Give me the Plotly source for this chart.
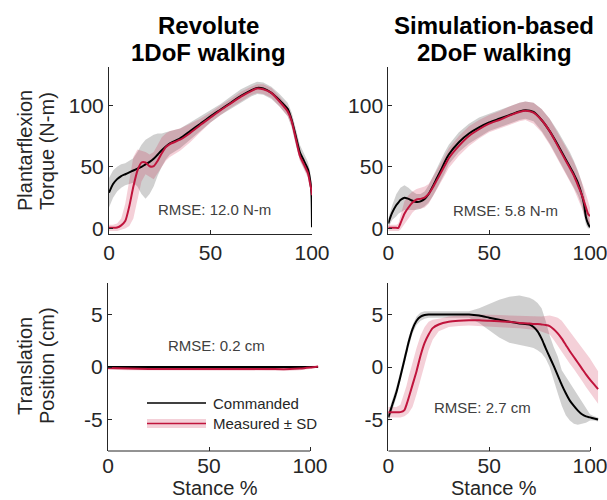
import plotly.graph_objects as go

W, H = 607, 500
FONT = "Liberation Sans, Arial, sans-serif"
TXT = "#262626"

# ---------------- data ----------------
# Top-left: Revolute 1DoF torque (N-m)
tl_x = [0, 2, 4, 6, 8, 10, 12, 14, 16, 18, 20, 22, 24, 26, 28, 30, 35, 40, 45, 50, 55, 60, 65, 70, 73, 76, 80, 84, 88, 90, 92, 94, 96, 98, 99, 99.7, 100]
tl_cmd = [29, 36, 40, 42.5, 44, 45.5, 47, 48.5, 50, 52, 54, 56.5, 60, 63.5, 66.5, 69, 73, 79, 85, 91, 96.5, 102, 107.5, 112, 114, 113.5, 110, 104, 97, 88, 75, 62, 55, 48, 40, 30, 1]
tl_cmd_hi = [41, 47, 50, 52, 53, 55, 57, 62, 68, 72, 74, 76, 77, 77, 78, 79, 81, 86, 91, 96, 101, 107, 113, 117, 119, 118.5, 115, 109, 102, 94, 82, 68, 61, 54, 47, 38, 5]
tl_cmd_lo = [17, 25, 30, 33, 35, 36, 37, 34, 28, 24, 28, 34, 43, 50, 56, 60, 65, 72, 79, 86, 92, 97, 102, 107, 109, 108.5, 105, 99, 91, 82, 68, 56, 49, 42, 33, 22, 0]
tl_meas = [0.5, 0.5, 0.8, 2.5, 6, 18, 34, 47, 53.5, 53.5, 50.5, 50.5, 55, 61, 66, 68.5, 72, 77.5, 84, 90, 96, 101.5, 107, 111.5, 113.5, 113, 110, 103, 95, 87, 73, 59, 52, 45, 37, 31, 27]
tl_meas_hi = [3, 3, 4, 8, 20, 40, 58, 64, 63, 62, 60, 62, 68, 74, 77, 79, 81, 85, 89, 94, 100, 105, 111, 115, 117, 117, 114, 107, 99, 91, 77, 63, 56, 49, 41, 35, 31]
tl_meas_lo = [-2, -2, -2, -1, 0, 2, 8, 22, 38, 44, 42, 40, 44, 50, 55, 58, 63, 70, 78, 86, 92, 98, 103, 108, 110, 109, 106, 99, 91, 83, 69, 55, 48, 41, 33, 27, 23]

# Top-right: Simulation-based 2DoF torque (N-m)
tr_x = [0, 1, 2, 4, 5, 6, 8, 10, 12, 14, 16, 18, 20, 22, 24, 26, 28, 30, 35, 40, 45, 50, 55, 60, 65, 68, 72, 76, 80, 84, 88, 90, 92, 94, 96, 97, 98, 99, 100]
tr_cmd = [4, 9, 13, 19, 21, 23, 25, 24, 22.5, 21.5, 22, 24, 28, 34, 40.5, 47, 54, 60, 70, 77, 82, 86, 89, 92, 95, 96, 94.5, 88, 79, 68, 56, 50, 44, 37, 27, 20, 9, 4, 1]
tr_cmd_hi = [8, 14, 19, 28, 31, 33, 35, 33, 30, 28, 28, 30, 35, 42, 49, 56, 62, 68, 78, 85, 90, 93, 96, 99, 102, 103, 102, 97, 89, 79, 68, 62, 55, 47, 37, 30, 18, 10, 5]
tr_cmd_lo = [0, 4, 7, 10, 12, 13, 15, 15, 15, 15, 16, 18, 21, 26, 32, 38, 45, 52, 62, 69, 74, 79, 82, 85, 88, 89, 87, 79, 69, 57, 45, 39, 33, 27, 18, 12, 3, 0, 0]
tr_meas = [0.5, 0.5, 0.5, 0.5, 0.5, 4, 12, 17, 21, 23.5, 24, 25, 28, 33, 39, 45, 51, 57, 67, 75, 80.5, 85, 88, 91.5, 94.5, 95.5, 94, 88, 79, 67, 55, 49, 43, 35, 27, 22, 17, 12, 10]
tr_meas_hi = [3, 3, 3, 3, 4, 10, 22, 27, 30, 32, 33, 34, 36, 41, 47, 53, 59, 65, 75, 83, 88, 92, 95, 99, 102, 103, 102, 97, 89, 78, 66, 60, 54, 46, 38, 33, 28, 22, 17]
tr_meas_lo = [-2, -2, -2, -2, -2, -1, 3, 8, 13, 16, 16, 17, 20, 25, 31, 37, 43, 49, 59, 67, 73, 78, 81, 84, 87, 88, 85, 78, 68, 56, 44, 38, 32, 24, 16, 12, 7, 3, 4]

# Bottom-left: Revolute 1DoF translation (cm)
bl_x = [0, 10, 20, 30, 40, 50, 60, 70, 80, 90, 95, 100, 104]
bl_cmd = [0, 0, 0, 0, 0, 0, 0, 0, 0, 0, 0, 0, 0]
bl_cmd_hi = [0.05] * 13
bl_cmd_lo = [-0.05] * 13
bl_meas = [-0.1, -0.15, -0.2, -0.2, -0.2, -0.2, -0.2, -0.2, -0.2, -0.2, -0.15, -0.05, 0.05]
bl_meas_hi = [0.05, 0.0, -0.05, -0.05, -0.05, -0.05, -0.05, -0.05, -0.05, -0.05, 0.0, 0.1, 0.15]
bl_meas_lo = [-0.25, -0.3, -0.35, -0.35, -0.35, -0.35, -0.35, -0.35, -0.35, -0.35, -0.3, -0.2, -0.05]

# Bottom-right: Simulation-based 2DoF translation (cm)
br_x = [0, 2, 4, 6, 8, 9, 10, 12, 14, 16, 18, 20, 22, 25, 30, 35, 40, 45, 50, 55, 60, 65, 70, 72, 74, 76, 78, 80, 82, 84, 86, 88, 90, 92, 94, 96, 98, 100, 102, 104]
br_cmd = [-4.8, -3.6, -2.4, -0.9, 0.7, 1.5, 2.3, 3.6, 4.4, 4.8, 4.95, 5.0, 5.0, 5.0, 5.0, 5.0, 5.0, 4.9, 4.7, 4.5, 4.3, 4.15, 4.05, 3.8, 3.4, 2.7, 1.8, 0.95, 0.1, -0.8, -1.7, -2.5, -3.2, -3.7, -4.15, -4.5, -4.7, -4.8, -4.9, -5.0]
br_cmd_hi = [-4.3, -3.1, -1.9, -0.4, 1.2, 2.0, 2.8, 4.0, 4.8, 5.2, 5.3, 5.3, 5.3, 5.3, 5.3, 5.3, 5.3, 5.6, 6.0, 6.4, 6.7, 6.8, 6.6, 6.4, 6.1, 5.6, 4.4, 3.0, 1.9, 1.0, -0.3, -0.9, -1.5, -2.2, -2.8, -3.4, -3.9, -4.5, -4.7, -4.8]
br_cmd_lo = [-5.3, -4.1, -2.9, -1.4, 0.2, 1.0, 1.8, 3.2, 4.0, 4.4, 4.6, 4.7, 4.7, 4.7, 4.7, 4.7, 4.7, 4.2, 3.5, 2.8, 2.3, 2.1, 1.9, 1.8, 1.6, 1.3, 0.8, 0.0, -1.3, -2.5, -3.7, -4.6, -5.1, -5.4, -5.5, -5.4, -5.3, -5.1, -5.1, -5.2]
br_meas = [-4.3, -4.3, -4.3, -4.3, -4.1, -3.6, -3.0, -1.7, -0.4, 1.1, 2.3, 3.1, 3.7, 4.05, 4.3, 4.4, 4.45, 4.45, 4.4, 4.35, 4.3, 4.2, 4.15, 4.1, 4.1, 4.05, 4.0, 3.9, 3.6, 3.2, 2.7, 2.1, 1.5, 0.95, 0.4, -0.15, -0.7, -1.2, -1.65, -2.1]
br_meas_hi = [-3.8, -3.8, -3.8, -3.6, -2.5, -1.8, -1.0, 0.5, 1.8, 3.0, 3.8, 4.3, 4.5, 4.6, 4.8, 4.9, 5.0, 5.0, 5.0, 4.95, 4.9, 4.85, 4.8, 4.8, 4.8, 4.8, 4.85, 4.9, 4.8, 4.7, 4.4, 3.9, 3.4, 2.8, 2.3, 1.8, 1.3, 0.8, 0.2, -0.4]
br_meas_lo = [-4.8, -4.8, -4.8, -4.8, -4.7, -4.6, -4.4, -3.8, -2.6, -1.2, 0.3, 1.6, 2.6, 3.4, 3.8, 3.9, 3.95, 3.95, 3.9, 3.8, 3.75, 3.7, 3.6, 3.55, 3.5, 3.4, 3.25, 3.1, 2.6, 2.1, 1.5, 0.9, 0.3, -0.2, -0.7, -1.3, -1.9, -2.5, -3.0, -3.5]

x_ticks = [0, 50, 100]
x_tick_text = ["0", "50", "100"]
torque_ticks = [0, 50, 100]
torque_tick_text = ["0", "50", "100"]
pos_ticks = [-5, 0, 5]
pos_tick_text = ["-5", "0", "5"]

title_lines = [("Revolute", "1DoF walking"), ("Simulation-based", "2DoF walking")]
ylabel_lines = [("Plantarflexion", "Torque (N-m)"), ("Translation", "Position (cm)")]
xlabel = "Stance %"
rmse_labels = ["RMSE: 12.0 N-m", "RMSE: 5.8 N-m", "RMSE: 0.2 cm", "RMSE: 2.7 cm"]
legend_labels = ["Commanded", "Measured ± SD"]

# ---------------- styling ----------------
BLACK = "#000000"
RED = "#C0143C"
GRAY_FILL = "rgba(150,150,150,0.45)"
PINK_FILL = "rgba(200,20,60,0.2)"

fig = go.Figure()

panels = [
    ("x", "y", tl_x, tl_cmd, tl_cmd_hi, tl_cmd_lo, tl_meas, tl_meas_hi, tl_meas_lo),
    ("x2", "y2", tr_x, tr_cmd, tr_cmd_hi, tr_cmd_lo, tr_meas, tr_meas_hi, tr_meas_lo),
    ("x3", "y3", bl_x, bl_cmd, bl_cmd_hi, bl_cmd_lo, bl_meas, bl_meas_hi, bl_meas_lo),
    ("x4", "y4", br_x, br_cmd, br_cmd_hi, br_cmd_lo, br_meas, br_meas_hi, br_meas_lo),
]

for xa, ya, xs, c, chi, clo, m, mhi, mlo in panels:
    fig.add_trace(go.Scatter(x=list(xs) + list(xs)[::-1], y=list(chi) + list(clo)[::-1],
                             fill="toself", fillcolor=GRAY_FILL, line=dict(width=0),
                             mode="lines", hoverinfo="skip", showlegend=False, xaxis=xa, yaxis=ya))
    fig.add_trace(go.Scatter(x=list(xs) + list(xs)[::-1], y=list(mhi) + list(mlo)[::-1],
                             fill="toself", fillcolor=PINK_FILL, line=dict(width=0),
                             mode="lines", hoverinfo="skip", showlegend=False, xaxis=xa, yaxis=ya))
    fig.add_trace(go.Scatter(x=xs, y=c, mode="lines", line=dict(color=BLACK, width=2, shape="spline", smoothing=0.6),
                             showlegend=False, xaxis=xa, yaxis=ya))
    fig.add_trace(go.Scatter(x=xs, y=m, mode="lines", line=dict(color=RED, width=2, shape="spline", smoothing=0.6),
                             showlegend=False, xaxis=xa, yaxis=ya))


def px_x(p):
    return p / W


def px_y(p):
    return 1 - p / H


axis_common = dict(showgrid=False, zeroline=False, ticks="inside", ticklen=4, tickwidth=1,
                   tickcolor=TXT, linecolor=TXT, linewidth=1, automargin=False,
                   ticklabeloverflow="allow",
                   tickfont=dict(family=FONT, size=21, color=TXT), fixedrange=True)

top_y = [px_y(234), px_y(67)]
bot_y = [px_y(451), px_y(283)]

fig.update_layout(
    xaxis=dict(domain=[px_x(109), px_x(312)], range=[0, 100], anchor="y", tickvals=x_ticks, ticktext=x_tick_text, showline=True, **axis_common),
    yaxis=dict(domain=top_y, range=[-4.5, 131], anchor="x", tickvals=torque_ticks, ticktext=torque_tick_text, showline=True, **axis_common),
    xaxis2=dict(domain=[px_x(388.3), px_x(590)], range=[0, 100], anchor="y2", tickvals=x_ticks, ticktext=x_tick_text, showline=True, **axis_common),
    yaxis2=dict(domain=top_y, range=[-4.5, 131], anchor="x2", tickvals=torque_ticks, ticktext=torque_tick_text, showline=True, **axis_common),
    xaxis3=dict(domain=[px_x(108), px_x(320.1)], range=[0, 105], anchor="y3", tickvals=x_ticks, ticktext=x_tick_text, showline=False, **axis_common),
    yaxis3=dict(domain=bot_y, range=[-8, 8], anchor="x3", tickvals=pos_ticks, ticktext=pos_tick_text, showline=True, **axis_common),
    xaxis4=dict(domain=[px_x(388.3), px_x(600.1)], range=[0, 105], anchor="y4", tickvals=x_ticks, ticktext=x_tick_text, showline=False, **axis_common),
    yaxis4=dict(domain=bot_y, range=[-8, 8], anchor="x4", tickvals=pos_ticks, ticktext=pos_tick_text, showline=True, **axis_common),
    width=W, height=H,
    margin=dict(l=0, r=0, t=0, b=0, autoexpand=False),
    paper_bgcolor="white", plot_bgcolor="white",
    showlegend=False,
)

# bottom x-axis lines only span 0..100
for xr, yr in (("x3", "y3 domain"), ("x4", "y4 domain")):
    fig.add_shape(type="line", xref=xr, yref=yr, x0=0, x1=100, y0=0, y1=0,
                  line=dict(color=TXT, width=1))

ann = []


def add_text(text, cx, cy, size, color=TXT, bold=False, angle=0, xanchor="center"):
    ann.append(dict(text=f"<b>{text}</b>" if bold else text, x=px_x(cx), y=px_y(cy),
                    xref="paper", yref="paper", showarrow=False, textangle=angle,
                    font=dict(family=FONT, size=size, color=color),
                    xanchor=xanchor, yanchor="middle"))


# titles (two separate lines each)
for (l1, l2), cx in zip(title_lines, (208.5, 494.5)):
    add_text(l1, cx, 25.5, 24, "#000000", bold=True)
    add_text(l2, cx, 53, 24, "#000000", bold=True)
# y-axis titles
for (l1, l2), cy in zip(ylabel_lines, (151, 366)):
    add_text(l1, 25, cy, 20, angle=-90)
    add_text(l2, 47, cy, 20, angle=-90)
# x-axis titles
for cx in (215, 494):
    add_text(xlabel, cx, 488, 20)
# RMSE labels
for lbl, (cx, cy) in zip(rmse_labels, [(214, 210), (505, 211), (216, 345), (482, 407)]):
    add_text(lbl, cx, cy, 15, "#404040")
# legend text
add_text(legend_labels[0], 211, 403, 15, xanchor="left")
add_text(legend_labels[1], 211, 423.5, 15, xanchor="left")
fig.update_layout(annotations=ann)

# legend symbols
fig.add_shape(type="line", xref="paper", yref="paper", x0=px_x(147), x1=px_x(206), y0=px_y(403), y1=px_y(403),
              line=dict(color=BLACK, width=1.3))
fig.add_shape(type="rect", xref="paper", yref="paper", x0=px_x(147), x1=px_x(206), y0=px_y(428), y1=px_y(419),
              fillcolor=PINK_FILL, line=dict(width=0))
fig.add_shape(type="line", xref="paper", yref="paper", x0=px_x(147), x1=px_x(206), y0=px_y(423.5), y1=px_y(423.5),
              line=dict(color=RED, width=1.6))

fig.write_html("out.html",
               config={"displayModeBar": False},
               post_script="document.body.style.margin='0';document.body.style.padding='0';"
                           "document.body.style.overflow='hidden';")
